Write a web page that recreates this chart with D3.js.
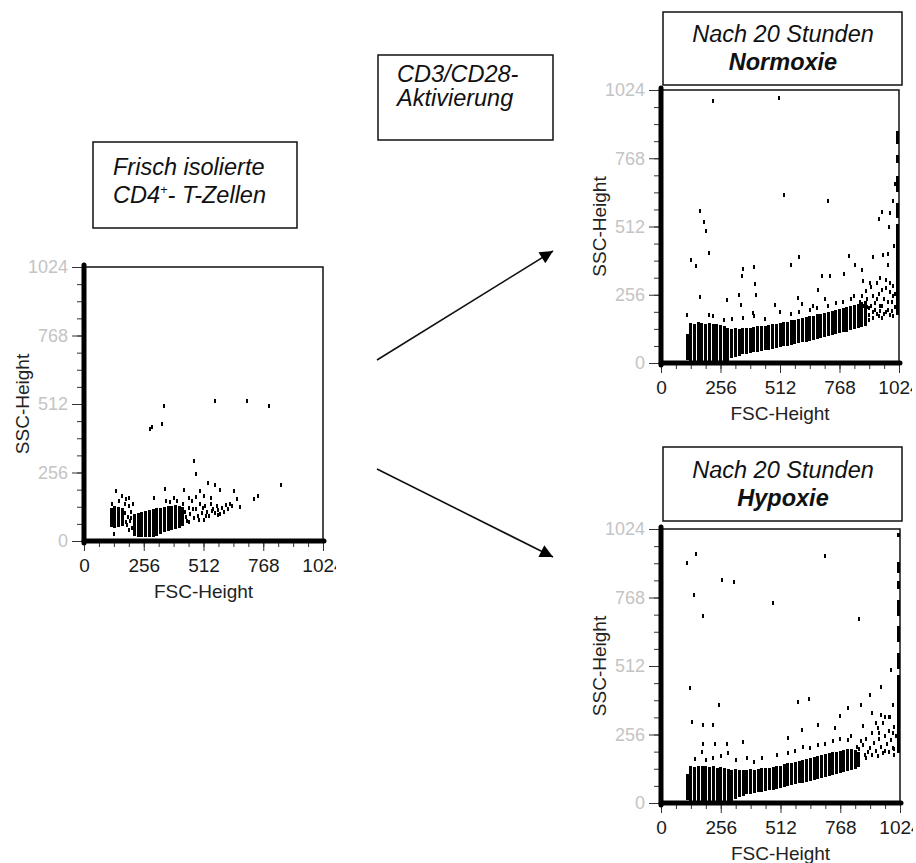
<!DOCTYPE html>
<html>
<head>
<meta charset="utf-8">
<script src="https://cdn.jsdelivr.net/npm/d3@7"></script>
<style>
  body { margin: 0; background: #fff; }
  svg { display: block; font-family: "Liberation Sans", Arial, sans-serif; }
</style>
</head>
<body>
<div id="container"></div>
<script>
// axis values (FSC / SSC channels)
const axisTicks = [0, 256, 512, 768, 1024];
const minorTicks = [0, 64, 128, 192, 256, 320, 384, 448, 512, 576, 640, 704, 768, 832, 896, 960, 1024];

// dense populations as vertical stripes: [fsc, sscLow, sscHigh]
const frischBars = [
  [116, 52, 125], [132, 50, 130], [148, 52, 128], [164, 55, 125],
  [216, 20, 100], [232, 15, 106], [248, 15, 110], [264, 15, 112],
  [280, 15, 115], [296, 16, 118], [312, 20, 122], [328, 26, 125], [344, 32, 128],
  [360, 38, 130], [376, 42, 132], [392, 46, 134], [408, 50, 132], [424, 56, 128]
];
// single events: [fsc, ssc]
const frischDots = [
  [283, 420], [290, 426], [336, 438], [343, 506], [563, 525], [698, 525], [791, 506],
  [471, 298], [478, 252], [843, 209], [744, 168], [727, 156], [667, 126], [656, 156],
  [641, 185], [584, 192], [563, 209], [530, 218], [496, 188], [428, 191], [346, 193],
  [300, 160], [137, 185], [161, 168], [180, 156], [194, 160], [129, 26],
  [416, 90], [424, 140], [432, 110], [440, 75], [448, 125], [456, 100], [464, 150],
  [472, 85], [480, 120], [488, 95], [496, 140], [504, 105], [512, 80], [520, 130],
  [528, 110], [536, 95], [544, 140], [552, 120], [560, 105], [568, 130], [576, 115],
  [584, 100], [592, 125], [600, 110], [608, 135], [616, 120], [624, 140], [632, 130],
  [448, 160], [480, 165], [512, 170], [544, 160], [400, 150], [384, 160], [368, 145],
  [352, 150], [192, 130], [200, 110], [208, 140], [184, 60], [196, 75], [204, 50],
  [188, 90], [200, 85], [176, 105], [180, 70], [192, 40], [176, 140], [120, 140], [150, 148],
  [436, 88], [452, 72], [468, 118], [492, 78], [508, 122], [524, 92], [548, 112], [572, 98]
];
const frischEdge = [];

const normBars = [
  [112, 10, 110], [128, 0, 150], [144, 0, 148], [160, 0, 152], [176, 0, 150],
  [192, 0, 148], [208, 0, 150], [224, 0, 146], [240, 0, 148], [256, 0, 142],
  [272, 0, 138], [288, 5, 132], [304, 18, 128], [320, 24, 130], [336, 28, 128],
  [352, 32, 130], [368, 35, 132], [384, 38, 130], [400, 40, 135], [416, 42, 138],
  [432, 45, 140], [448, 48, 140], [464, 50, 142], [480, 53, 145], [496, 56, 146],
  [512, 59, 150], [528, 62, 152], [544, 65, 155], [560, 68, 160], [576, 71, 162],
  [592, 74, 165], [608, 77, 168], [624, 80, 172], [640, 84, 175], [656, 87, 178],
  [672, 90, 182], [688, 94, 185], [704, 97, 188], [720, 101, 192], [736, 104, 195],
  [752, 108, 198], [768, 111, 202], [784, 115, 206], [800, 118, 210], [816, 122, 214],
  [832, 126, 218], [848, 130, 222], [864, 135, 228], [880, 140, 232]
];
const normDots = [
  [222, 984], [509, 993], [531, 630], [720, 609], [168, 571], [183, 530], [194, 496],
  [208, 411], [129, 386], [151, 365], [354, 351], [400, 361], [347, 327], [405, 297],
  [168, 249], [283, 237], [334, 255], [344, 218], [111, 180], [408, 255], [395, 186],
  [595, 399], [558, 367], [808, 401], [835, 367], [692, 327], [728, 327], [788, 333],
  [950, 567], [940, 539], [985, 561], [983, 511], [997, 609], [1007, 671], [957, 405],
  [978, 409], [1003, 438], [978, 367], [914, 399], [591, 244], [491, 218], [513, 193],
  [605, 222], [677, 275], [863, 348], [871, 307], [900, 301],
  [856, 230], [864, 250], [872, 215], [880, 270], [888, 240], [896, 205], [904, 285],
  [912, 250], [920, 225], [928, 300], [936, 260], [944, 215], [952, 275], [960, 240],
  [968, 310], [976, 200], [984, 265], [992, 230], [1000, 290], [1008, 210], [880, 195],
  [896, 180], [912, 190], [928, 185], [944, 195], [960, 185], [976, 230], [992, 195],
  [944, 320], [968, 280], [920, 200], [904, 215], [888, 210], [1000, 250], [984, 300],
  [1008, 260], [208, 180], [224, 175], [272, 160], [304, 165], [352, 170], [400, 175],
  [448, 165], [560, 185], [592, 190], [640, 200], [656, 215], [720, 215], [752, 225],
  [784, 230], [816, 240], [832, 250], [704, 240], [672, 205], [896, 160], [912, 170],
  [936, 178], [952, 168], [968, 190], [984, 180], [1000, 175], [928, 240], [952, 215]
];
const normEdge = [[1016, 180, 520], [1016, 545, 600], [1016, 640, 700], [1016, 750, 780], [1016, 820, 870]];

const hypoBars = [
  [112, 10, 110], [128, 0, 140], [144, 0, 135], [160, 0, 140], [176, 0, 138],
  [192, 0, 140], [208, 0, 135], [224, 0, 138], [240, 0, 130], [256, 0, 135],
  [272, 0, 130], [288, 0, 128], [304, 5, 125], [320, 15, 128], [336, 22, 125],
  [352, 28, 122], [368, 32, 125], [384, 35, 128], [400, 38, 125], [416, 40, 128],
  [432, 42, 130], [448, 45, 132], [464, 48, 130], [480, 50, 135], [496, 53, 138],
  [512, 56, 140], [528, 60, 145], [544, 63, 148], [560, 66, 150], [576, 70, 155],
  [592, 73, 158], [608, 76, 162], [624, 80, 165], [640, 83, 168], [656, 86, 172],
  [672, 90, 176], [688, 93, 180], [704, 96, 183], [720, 100, 186], [736, 104, 189],
  [752, 108, 192], [768, 112, 195], [784, 116, 198], [800, 120, 200], [816, 124, 202],
  [832, 128, 198], [848, 135, 192]
];
const hypoDots = [
  [110, 896], [150, 929], [142, 777], [182, 699], [260, 833], [313, 827], [481, 746],
  [703, 924], [848, 686], [984, 497], [941, 435], [896, 404], [856, 366], [803, 356],
  [765, 325], [123, 428], [249, 366], [131, 304], [182, 291], [222, 291], [588, 378],
  [634, 387], [605, 272], [671, 291], [746, 279], [353, 229], [232, 220], [282, 220],
  [182, 220], [546, 242], [995, 366], [902, 335], [959, 323], [981, 323], [867, 286],
  [848, 200], [864, 215], [872, 180], [880, 240], [896, 205], [904, 260], [912, 225],
  [920, 195], [928, 280], [936, 240], [944, 210], [952, 300], [960, 250], [968, 220],
  [976, 270], [984, 235], [992, 205], [1000, 285], [1008, 250], [888, 190], [920, 300],
  [944, 330], [960, 195], [976, 320], [992, 260], [1000, 200], [856, 230], [840, 210],
  [144, 165], [176, 190], [192, 160], [224, 170], [256, 175], [288, 185], [320, 160],
  [368, 170], [400, 155], [432, 170], [496, 180], [544, 185], [576, 195], [608, 210],
  [640, 205], [672, 215], [704, 220], [736, 230], [768, 240], [800, 235], [816, 250],
  [880, 170], [904, 180], [928, 175], [952, 185], [976, 190], [1000, 180], [936, 260]
];
const hypoEdge = [[1016, 185, 480], [1016, 500, 560], [1016, 600, 660], [1016, 700, 760], [1016, 800, 830], [1016, 860, 900], [1016, 995, 1010]];

const width = 916;
const height = 863;

const svg = d3.select("#container").append("svg")
  .attr("width", width)
  .attr("height", height);
const defs = svg.append("defs");

const plots = [
  { id: "frisch", left: 84, right: 323, top: 267, bottom: 541, bars: frischBars, dots: frischDots, edge: frischEdge },
  { id: "norm", left: 661, right: 899, top: 90, bottom: 363, bars: normBars, dots: normDots, edge: normEdge },
  { id: "hypo", left: 661, right: 900, top: 529, bottom: 803, bars: hypoBars, dots: hypoDots, edge: hypoEdge }
];

plots.forEach(p => {
  const x = d3.scaleLinear([0, 1024], [p.left, p.right]);
  const y = d3.scaleLinear([0, 1024], [p.bottom, p.top]);
  const g = svg.append("g").attr("class", "plot-" + p.id);

  // the source figure crops the last x label
  defs.append("clipPath").attr("id", "clip-" + p.id)
    .append("rect")
    .attr("x", 0).attr("y", 0)
    .attr("width", p.right + 13).attr("height", height);

  // thin frame top/right
  g.append("rect")
    .attr("x", p.left).attr("y", p.top)
    .attr("width", p.right - p.left).attr("height", p.bottom - p.top)
    .attr("fill", "none").attr("stroke", "#111").attr("stroke-width", 1.5);

  // events
  const ev = g.append("g").attr("shape-rendering", "crispEdges").attr("fill", "#000");
  ev.selectAll(".bar").data(p.bars).join("rect")
    .attr("class", "bar")
    .attr("x", d => x(d[0]) - 1.5)
    .attr("width", 3)
    .attr("y", d => y(d[2]))
    .attr("height", d => y(d[1]) - y(d[2]));
  ev.selectAll(".edge").data(p.edge).join("rect")
    .attr("class", "edge")
    .attr("x", d => x(d[0]) - 1.5)
    .attr("width", 3)
    .attr("y", d => y(d[2]))
    .attr("height", d => y(d[1]) - y(d[2]));
  ev.selectAll(".dot").data(p.dots).join("rect")
    .attr("class", "dot")
    .attr("x", d => x(d[0]) - 1)
    .attr("width", 2)
    .attr("y", d => y(d[1]) - 2)
    .attr("height", 4);

  // minor ticks
  g.append("g")
    .attr("transform", `translate(0,${p.bottom})`)
    .call(d3.axisBottom(x).tickValues(minorTicks).tickSize(6).tickFormat(""))
    .call(a => a.select(".domain").remove())
    .call(a => a.selectAll("line").attr("stroke", "#333"));
  g.append("g")
    .attr("transform", `translate(${p.left},0)`)
    .call(d3.axisLeft(y).tickValues(minorTicks).tickSize(7).tickFormat(""))
    .call(a => a.select(".domain").remove())
    .call(a => a.selectAll("line").attr("stroke", "#333"));

  // major ticks + labels
  g.append("g")
    .attr("transform", `translate(0,${p.bottom})`)
    .attr("clip-path", `url(#clip-${p.id})`)
    .call(d3.axisBottom(x).tickValues(axisTicks).tickSize(10).tickPadding(8).tickFormat(d3.format("d")))
    .call(a => a.select(".domain").remove())
    .call(a => a.selectAll("line").attr("stroke", "#333"))
    .call(a => a.selectAll("text")
      .attr("font-size", 19)
      .attr("font-family", "Liberation Sans, Arial, sans-serif")
      .attr("fill", "#1a1a1a"));
  g.append("g")
    .attr("transform", `translate(${p.left},0)`)
    .call(d3.axisLeft(y).tickValues(axisTicks).tickSize(12).tickPadding(4).tickFormat(d3.format("d")))
    .call(a => a.select(".domain").remove())
    .call(a => a.selectAll("line").attr("stroke", "#333"))
    .call(a => a.selectAll("text")
      .attr("font-size", 18)
      .attr("font-family", "Liberation Sans, Arial, sans-serif")
      .attr("fill", "#c4c4c4"));

  // thick left and bottom axis lines
  g.append("line")
    .attr("x1", p.left).attr("x2", p.left)
    .attr("y1", p.top - 2).attr("y2", p.bottom + 2)
    .attr("stroke", "#000").attr("stroke-width", 5).attr("stroke-linecap", "round");
  g.append("line")
    .attr("x1", p.left).attr("x2", p.right + 1)
    .attr("y1", p.bottom).attr("y2", p.bottom)
    .attr("stroke", "#000").attr("stroke-width", 5).attr("stroke-linecap", "round");

  // axis titles
  g.append("text")
    .attr("x", (p.left + p.right) / 2)
    .attr("y", p.bottom + 57)
    .attr("text-anchor", "middle")
    .attr("font-size", 19)
    .attr("fill", "#222")
    .text("FSC-Height");
  g.append("text")
    .attr("transform", `translate(${p.left - 55},${(p.top + p.bottom) / 2}) rotate(-90)`)
    .attr("text-anchor", "middle")
    .attr("font-size", 19)
    .attr("fill", "#222")
    .text("SSC-Height");
});

// caption boxes
const boxes = [
  { x: 93, y: 142, w: 204, h: 86 },
  { x: 378, y: 55, w: 175, h: 85 },
  { x: 663, y: 12, w: 239, h: 73 },
  { x: 663, y: 447, w: 239, h: 74 }
];
svg.append("g").selectAll("rect").data(boxes).join("rect")
  .attr("x", d => d.x).attr("y", d => d.y)
  .attr("width", d => d.w).attr("height", d => d.h)
  .attr("fill", "none").attr("stroke", "#111").attr("stroke-width", 1.5);

const cap = svg.append("g").attr("font-size", 23.5).attr("font-style", "italic").attr("fill", "#111");
cap.append("text").attr("x", 113).attr("y", 175).text("Frisch isolierte");
const cd4 = cap.append("text").attr("x", 113).attr("y", 203);
cd4.append("tspan").text("CD4");
cd4.append("tspan").attr("dy", -9).attr("font-size", 13).text("+");
cd4.append("tspan").attr("dy", 9).text("- T-Zellen");

cap.append("text").attr("x", 397).attr("y", 82).text("CD3/CD28-");
cap.append("text").attr("x", 397).attr("y", 106).text("Aktivierung");

cap.append("text").attr("x", 783).attr("y", 42).attr("text-anchor", "middle").text("Nach 20 Stunden");
cap.append("text").attr("x", 783).attr("y", 70).attr("text-anchor", "middle").attr("font-weight", "bold").text("Normoxie");
cap.append("text").attr("x", 783).attr("y", 478).attr("text-anchor", "middle").text("Nach 20 Stunden");
cap.append("text").attr("x", 783).attr("y", 506).attr("text-anchor", "middle").attr("font-weight", "bold").text("Hypoxie");

// arrows
defs.append("marker")
  .attr("id", "arrow")
  .attr("viewBox", "0 0 10 10")
  .attr("refX", 10).attr("refY", 5)
  .attr("markerWidth", 17).attr("markerHeight", 13)
  .attr("markerUnits", "userSpaceOnUse")
  .attr("orient", "auto")
  .append("path").attr("d", "M0,0L10,5L0,10Z").attr("fill", "#000");

const arrows = [
  { x1: 377, y1: 360, x2: 553, y2: 251 },
  { x1: 377, y1: 469, x2: 553, y2: 557 }
];
svg.append("g").selectAll("line").data(arrows).join("line")
  .attr("x1", d => d.x1).attr("y1", d => d.y1)
  .attr("x2", d => d.x2).attr("y2", d => d.y2)
  .attr("stroke", "#111").attr("stroke-width", 1.6)
  .attr("marker-end", "url(#arrow)");
</script>
</body>
</html>
